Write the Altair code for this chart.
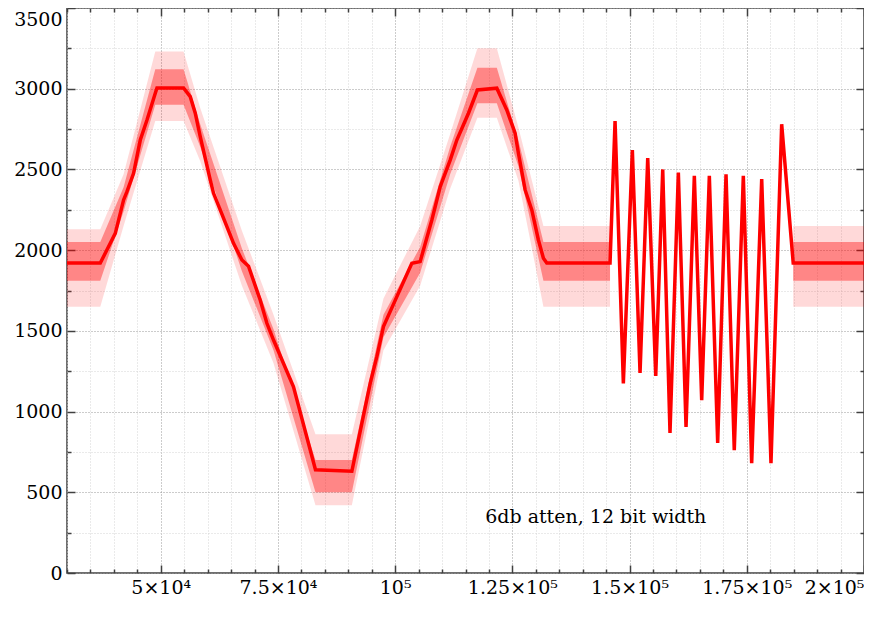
import altair as alt
import pandas as pd

# ---- waveform centre line ----
wave_x = [30000, 37100, 40300, 42070, 42790, 44200, 45630, 47060, 48830, 49190,
          54860, 56290, 57360, 58420, 60550, 61260, 62680, 65520, 67310, 68720,
          71210, 72640, 74050, 78310, 83000, 90760, 92890, 94670, 96090, 97500,
          100360, 103550, 105330, 107820, 109600, 111730, 113150, 115630, 117540, 121680,
          123810, 125580, 126290, 127720, 129140, 130550, 131620, 132340, 145830,
          146900, 148670, 150590, 152230, 153870, 155580, 157070, 158620, 160400, 162040,
          163810, 165380, 167010, 168790, 170570, 172330, 174260, 176040, 178180, 180160,
          182440, 184900, 200000]
wave_y = [1920, 1920, 2104, 2311, 2362, 2476, 2682, 2806, 2972, 3005,
          3005, 2951, 2848, 2703, 2435, 2352, 2249, 2042, 1939, 1900,
          1691, 1547, 1443, 1154, 640, 630, 927, 1175, 1340, 1526,
          1712, 1918, 1929, 2187, 2393, 2558, 2682, 2848, 2992, 3003,
          2868, 2724, 2600, 2373, 2249, 2063, 1950, 1920, 1920,
          2800, 1175, 2620, 1240, 2570, 1220, 2500, 867, 2480, 905,
          2460, 1070, 2460, 805, 2470, 760, 2460, 680, 2440, 680,
          2780, 1920, 1920]

# ---- noise envelope (sparse outer spread and denser inner spread) ----
band_seg = ["a"] * 18 + ["b"] * 2
band_x = [30000, 37100, 42070, 48830, 54860, 58420, 67310, 74050, 83000, 90760,
          97500, 105330, 111730, 117540, 121680, 126290, 131620, 145830,
          184900, 200000]
outer_lo = [1650, 1650, 2150, 2800, 2800, 2550, 1780, 1300, 420, 420,
            1380, 1780, 2380, 2820, 2820, 2430, 1650, 1650,
            1650, 1650]
outer_hi = [2130, 2130, 2470, 3230, 3230, 2880, 2120, 1600, 860, 860,
            1700, 2150, 2720, 3250, 3250, 2760, 2150, 2150,
            2150, 2150]
mid_lo = [1810, 1810, 2240, 2900, 2900, 2640, 1870, 1380, 500, 500,
          1460, 1860, 2470, 2910, 2910, 2520, 1810, 1810,
          1810, 1810]
mid_hi = [2050, 2050, 2390, 3120, 3120, 2780, 2010, 1510, 700, 700,
          1600, 2020, 2640, 3130, 3130, 2680, 2050, 2050,
          2050, 2050]

note_x = [119200]
note_y = [350]
note_text = ["6db atten, 12 bit width"]

x_major = [50000, 75000, 100000, 125000, 150000, 175000, 200000]
x_major_labels = ["5×10⁴", "7.5×10⁴", "10⁵", "1.25×10⁵", "1.5×10⁵", "1.75×10⁵", "2×10⁵"]
x_minor = [v for v in range(30000, 200001, 5000) if v % 25000 != 0]
y_major = [0, 500, 1000, 1500, 2000, 2500, 3000, 3500]
y_minor = [250, 750, 1250, 1750, 2250, 2750, 3250]

wave_df = pd.DataFrame({"x": wave_x, "y": wave_y})
band_df = pd.DataFrame({"x": band_x, "seg": band_seg,
                        "olo": outer_lo, "ohi": outer_hi,
                        "mlo": mid_lo, "mhi": mid_hi})
note_df = pd.DataFrame({"x": note_x, "y": note_y, "t": note_text})

FONT = "DejaVu Serif"
FRAME = "#404040"
FS = 19

label_expr = " : ".join(
    f"datum.value == {v} ? '{t}'" for v, t in zip(x_major, x_major_labels)
) + " : ''"

xs = alt.Scale(domain=[30000, 200000], nice=False, zero=False)
ys = alt.Scale(domain=[0, 3500], nice=False, zero=True)

common = dict(title=None, domain=False, tickColor=FRAME, tickWidth=1.5)

ax_bottom_major = alt.Axis(orient="bottom", values=x_major, labelExpr=label_expr,
                           tickSize=8, offset=-8, labelPadding=5,
                           labelFont=FONT, labelFontSize=FS, labelColor="#000",
                           labelFlush=False, labelOverlap=False,
                           labelAlign={"condition": {"test": "datum.value == 200000", "value": "right"},
                                       "value": "center"},
                           grid=True, gridColor="#999999", gridDash=[1, 2], gridWidth=1,
                           **common)
ax_bottom_minor = alt.Axis(orient="bottom", values=x_minor, labels=False,
                           tickSize=4, offset=-4,
                           grid=True, gridColor="#d4d4d4", gridDash=[1, 2], gridWidth=1,
                           **common)
ax_top_major = alt.Axis(orient="top", values=x_major, labels=False,
                        tickSize=8, offset=-8, grid=False, **common)
ax_top_minor = alt.Axis(orient="top", values=x_minor, labels=False,
                        tickSize=4, offset=-4, grid=False, **common)

ax_left_major = alt.Axis(orient="left", values=y_major, format="d",
                         tickSize=8, offset=-8, labelPadding=5,
                         labelFont=FONT, labelFontSize=FS, labelColor="#000",
                         labelFlush=False, labelOverlap=False,
                         labelBaseline={"condition": {"test": "datum.value == 3500", "value": "top"},
                                        "value": "middle"},
                         labelOffset={"condition": {"test": "datum.value == 3500", "value": 2},
                                      "value": 0},
                         grid=True, gridColor="#999999", gridDash=[1, 2], gridWidth=1,
                         **common)
ax_left_minor = alt.Axis(orient="left", values=y_minor, labels=False,
                         tickSize=4, offset=-4,
                         grid=True, gridColor="#d4d4d4", gridDash=[1, 2], gridWidth=1,
                         **common)
ax_right_major = alt.Axis(orient="right", values=y_major, labels=False,
                          tickSize=8, offset=-8, grid=False, **common)
ax_right_minor = alt.Axis(orient="right", values=y_minor, labels=False,
                          tickSize=4, offset=-4, grid=False, **common)

outer = alt.Chart(band_df).mark_area(color="#ff0000", opacity=0.15).encode(
    x=alt.X("x:Q", scale=xs, axis=ax_bottom_major),
    y=alt.Y("olo:Q", scale=ys, axis=ax_left_major),
    y2="ohi:Q",
    detail="seg:N",
)
inner = alt.Chart(band_df).mark_area(color="#ff0000", opacity=0.38).encode(
    x=alt.X("x:Q", scale=xs, axis=ax_bottom_minor),
    y=alt.Y("mlo:Q", scale=ys, axis=ax_left_minor),
    y2="mhi:Q",
    detail="seg:N",
)
line = alt.Chart(wave_df).mark_line(color="#ff0000", strokeWidth=3.5).encode(
    x=alt.X("x:Q", scale=xs, axis=ax_top_major),
    y=alt.Y("y:Q", scale=ys, axis=ax_right_major),
)
note = alt.Chart(note_df).mark_text(align="left", baseline="middle", font=FONT,
                                    fontSize=FS, color="#000").encode(
    x=alt.X("x:Q", scale=xs, axis=ax_top_minor),
    y=alt.Y("y:Q", scale=ys, axis=ax_right_minor),
    text="t:N",
)

chart = alt.layer(outer, inner, line, note).resolve_axis(
    x="independent", y="independent"
).properties(
    width=797, height=565,
    autosize=alt.AutoSizeParams(type="none"),
    padding={"left": 59, "top": 0, "right": 0, "bottom": 38},
    background="white",
).configure_view(stroke=FRAME, strokeWidth=1.5)

chart.save("out.html", embed_options={"renderer": "svg", "actions": False})
